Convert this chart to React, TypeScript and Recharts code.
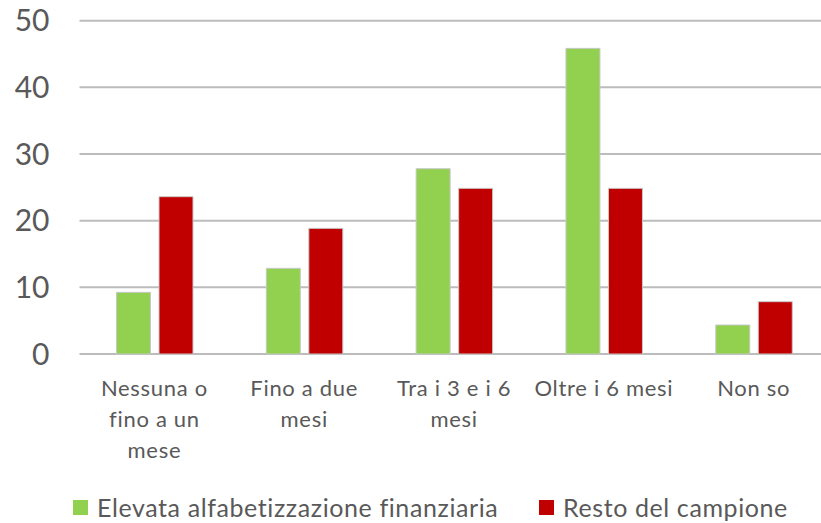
import React from 'react';
import { BarChart, Bar, XAxis, YAxis, CartesianGrid, Legend } from 'recharts';

const categories = [
  'Nessuna o\nfino a un\nmese',
  'Fino a due\nmesi',
  'Tra i 3 e i 6\nmesi',
  'Oltre i 6 mesi',
  'Non so',
];
const elevata = [9.25, 12.85, 27.8, 45.85, 4.35];
const resto = [23.6, 18.85, 24.85, 24.85, 7.85];
const seriesNames = ['Elevata alfabetizzazione finanziaria', 'Resto del campione'];
const yTicks = [0, 10, 20, 30, 40, 50];

const data = categories.map((c, i) => ({ cat: c, elevata: elevata[i], resto: resto[i] }));

const GREEN = '#92D050';
const RED = '#C00000';
const TEXT = '#595959';

const XTick = (props: any) => {
  const { x, y, payload } = props;
  const lines = String(payload.value).split('\n');
  return (
    <text
      x={x}
      y={y}
      textAnchor="middle"
      fill={TEXT}
      fontFamily="Lato"
      fontSize={22}
      style={{ letterSpacing: '0.7px' }}
    >
      {lines.map((l, i) => (
        <tspan key={i} x={x} dy={i === 0 ? 41.7 : 31.3}>
          {l}
        </tspan>
      ))}
    </text>
  );
};

const legendLefts = [73, 539];

const LegendContent = (props: any) => {
  const payload = props.payload || [];
  return (
    <div style={{ position: 'relative', height: 24, width: 821 }}>
      {payload.map((p: any, i: number) => (
        <div
          key={i}
          style={{
            position: 'absolute',
            left: legendLefts[i],
            top: 0,
            height: 24,
            display: 'flex',
            alignItems: 'center',
          }}
        >
          <span style={{ display: 'inline-block', width: 15, height: 15, background: p.color, marginRight: 9 }} />
          <span
            style={{
              fontFamily: 'Lato',
              fontSize: 25,
              lineHeight: '24px',
              letterSpacing: '0.6px',
              color: TEXT,
              whiteSpace: 'nowrap',
            }}
          >
            {p.value}
          </span>
        </div>
      ))}
    </div>
  );
};

export default function App() {
  return (
    <div
      style={{
        position: 'absolute',
        left: 0,
        top: 0,
        width: 821,
        height: 523,
        overflow: 'hidden',
        background: '#fff',
      }}
    >
      <BarChart
        width={840}
        height={523}
        data={data}
        margin={{ top: 20.7, right: 11.4, left: 0, bottom: 49 }}
        barGap={8.5}
      >
        <CartesianGrid vertical={false} stroke="#bcbcbc" strokeWidth={2} />
        <XAxis
          dataKey="cat"
          axisLine={false}
          tickLine={false}
          tickSize={0}
          tickMargin={0}
          height={120}
          interval={0}
          tick={<XTick />}
        />
        <YAxis
          width={79.5}
          domain={[0, 50]}
          ticks={yTicks}
          axisLine={false}
          tickLine={false}
          tickSize={0}
          tickMargin={30}
          tick={{ fill: TEXT, fontSize: 30, fontFamily: 'Lato' }}
        />
        <Legend
          layout="horizontal"
          verticalAlign="middle"
          align="center"
          wrapperStyle={{ top: 495, left: 0, width: 821 }}
          content={<LegendContent />}
        />
        <Bar
          dataKey="elevata"
          name={seriesNames[0]}
          fill={GREEN}
          stroke="#c8c8c8"
          strokeWidth={1}
          barSize={34}
          isAnimationActive={false}
        />
        <Bar
          dataKey="resto"
          name={seriesNames[1]}
          fill={RED}
          stroke="#c8c8c8"
          strokeWidth={1}
          barSize={34}
          isAnimationActive={false}
        />
      </BarChart>
    </div>
  );
}
